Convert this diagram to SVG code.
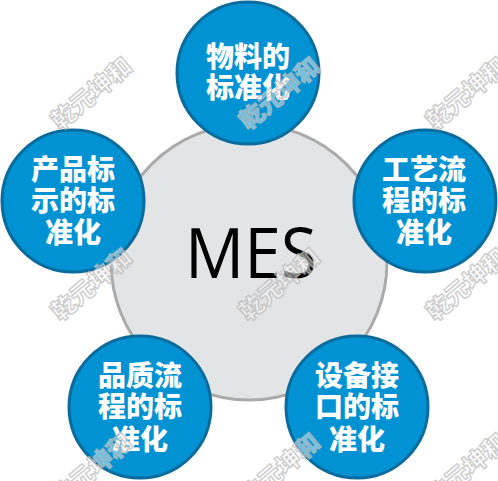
<svg xmlns="http://www.w3.org/2000/svg" width="498" height="481" viewBox="0 0 498 481">
<style>
.blue{fill:#0092d2;stroke:#0a6b9c;stroke-width:3}
.lbl{font-family:"Noto Sans CJK SC","Noto Sans",sans-serif;font-weight:900;font-size:28px;fill:#ffffff;text-anchor:middle}
.wm{font-family:"Noto Sans CJK SC",sans-serif;font-weight:900;font-size:24px;fill:#ffffff;fill-opacity:0.45;stroke:#b8b8b8;stroke-opacity:0.7;stroke-width:1.5;text-anchor:middle}
</style>
<rect width="498" height="481" fill="#ffffff"/>
<g id="center">
<circle cx="249" cy="262" r="138" fill="#e3e4e5" stroke="#aaaaaa" stroke-width="3"/>
<text x="251" y="278" font-family="'Open Sans','Noto Sans',sans-serif" font-size="70" fill="#000000" text-anchor="middle" textLength="132" lengthAdjust="spacingAndGlyphs">MES</text>
</g>
<g id="connectors"></g>
<g id="node-top">
<circle class="blue" cx="248" cy="73" r="71"/>
<text class="lbl" x="248" y="67">物料的</text>
<text class="lbl" x="248" y="98">标准化</text>
</g>
<g id="node-left">
<circle class="blue" cx="73" cy="201" r="71"/>
<text class="lbl" x="73" y="180">产品标</text>
<text class="lbl" x="73" y="211">示的标</text>
<text class="lbl" x="73" y="243">准化</text>
</g>
<g id="node-right">
<circle class="blue" cx="425" cy="201" r="71"/>
<text class="lbl" x="424" y="180">工艺流</text>
<text class="lbl" x="424" y="211">程的标</text>
<text class="lbl" x="424" y="243">准化</text>
</g>
<g id="node-bottom-left">
<circle class="blue" cx="140" cy="407" r="71"/>
<text class="lbl" x="140" y="386">品质流</text>
<text class="lbl" x="140" y="417">程的标</text>
<text class="lbl" x="140" y="450">准化</text>
</g>
<g id="node-bottom-right">
<circle class="blue" cx="357" cy="407" r="71"/>
<text class="lbl" x="357" y="386">设备接</text>
<text class="lbl" x="357" y="417">口的标</text>
<text class="lbl" x="357" y="450">准化</text>
</g>
<g id="watermarks">
<text class="wm" transform="translate(97,100) rotate(-40)">乾元坤和</text>
<text class="wm" transform="translate(285,100) rotate(-40)">乾元坤和</text>
<text class="wm" transform="translate(472,100) rotate(-40)">乾元坤和</text>
<text class="wm" transform="translate(97,291) rotate(-40)">乾元坤和</text>
<text class="wm" transform="translate(285,291) rotate(-40)">乾元坤和</text>
<text class="wm" transform="translate(472,291) rotate(-40)">乾元坤和</text>
<text class="wm" transform="translate(97,476) rotate(-40)">乾元坤和</text>
<text class="wm" transform="translate(285,476) rotate(-40)">乾元坤和</text>
<text class="wm" transform="translate(472,476) rotate(-40)">乾元坤和</text>
</g>
</svg>
